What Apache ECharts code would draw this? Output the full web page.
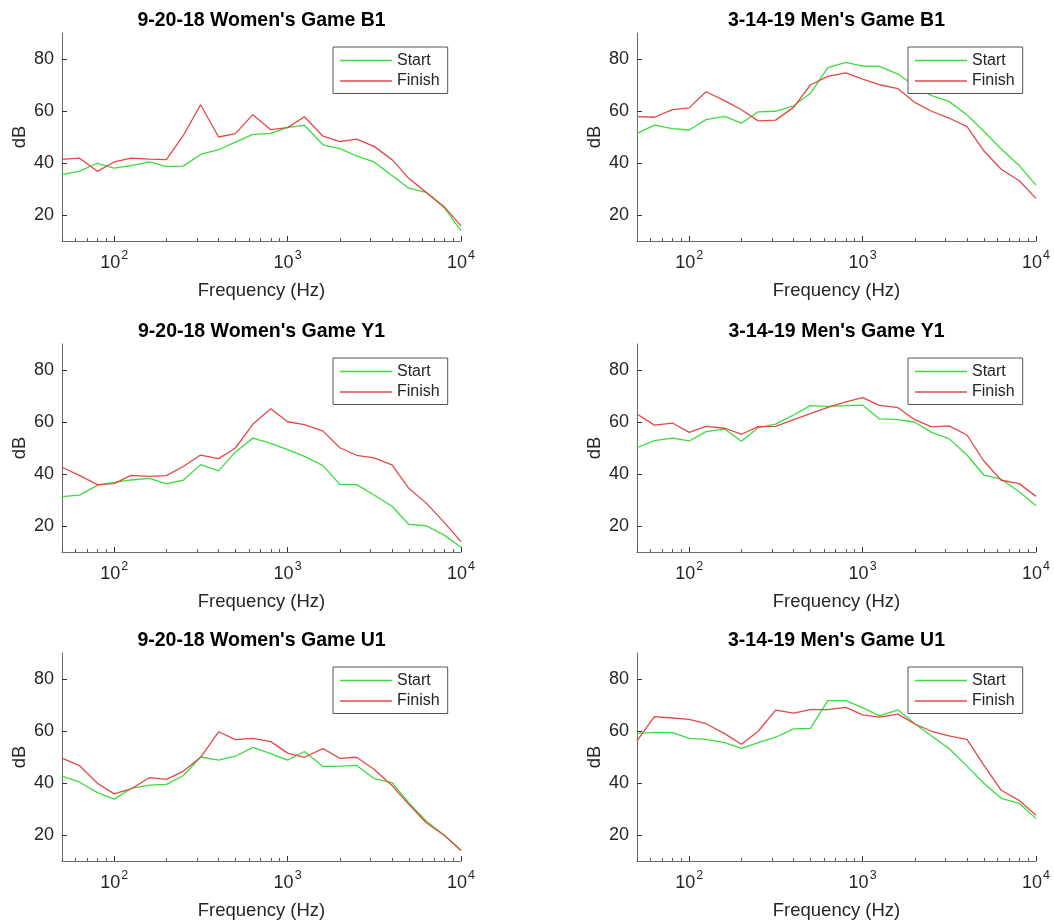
<!DOCTYPE html>
<html><head><meta charset="utf-8">
<script src="https://cdn.jsdelivr.net/npm/echarts@6/dist/echarts.min.js"></script>
<style>html,body{margin:0;padding:0;background:#fff}#c{width:1054px;height:922px}</style>
</head><body><div id="c"></div>
<script>
const freqs = [50,63,80,100,125,160,200,250,315,400,500,630,800,1000,1250,1600,2000,2500,3150,4000,5000,6300,8000,10000];

const womenB1Start  = [35.5,36.9,39.9,38.0,39.0,40.4,38.6,38.8,43.3,45.1,48.0,51.0,51.4,53.7,54.5,47.0,45.5,42.7,40.4,35.2,30.3,28.7,22.8,14.0];
const womenB1Finish = [41.4,41.9,36.8,40.4,41.9,41.5,41.3,50.5,62.4,50.0,51.3,58.6,52.8,53.6,57.8,50.3,48.2,49.2,46.4,41.3,34.1,28.7,23.2,15.8];
const menB1Start    = [51.4,54.6,53.2,52.7,56.7,57.9,55.3,59.7,59.9,62.0,66.8,76.7,78.7,77.3,77.2,74.2,69.5,65.9,63.7,58.5,52.2,45.4,39.0,31.5];
const menB1Finish   = [57.8,57.6,60.5,61.2,67.4,64.0,60.5,56.2,56.5,61.4,70.0,73.3,74.7,72.3,70.1,68.6,63.3,59.9,57.3,54.0,44.7,37.6,33.2,26.4];
const womenY1Start  = [31.3,31.9,35.6,36.8,37.7,38.3,36.2,37.6,43.6,41.2,48.5,53.8,51.8,49.4,46.8,43.2,36.0,35.9,31.9,27.6,20.6,20.1,16.5,11.8];
const womenY1Finish = [42.6,39.5,35.9,36.3,39.5,39.1,39.4,42.9,47.3,45.9,50.0,59.1,65.1,60.1,59.0,56.5,50.1,47.2,46.2,43.5,34.5,28.8,21.4,14.0];
const menY1Start    = [50.1,52.8,53.8,52.7,56.3,57.3,52.6,57.8,59.2,62.7,66.3,66.0,66.3,66.5,61.2,60.9,59.9,56.0,53.6,47.3,39.6,38.0,33.2,27.8];
const menY1Finish   = [63.1,58.8,59.6,56.0,58.3,57.6,55.3,58.2,58.3,60.9,63.2,65.6,67.7,69.4,66.4,65.5,60.9,58.1,58.5,55.0,45.0,37.6,36.3,31.4];
const womenU1Start  = [42.6,40.4,36.3,33.8,37.9,39.2,39.5,42.8,50.0,48.8,50.3,53.7,51.3,48.8,52.1,46.3,46.5,46.8,41.7,40.1,32.4,25.4,19.9,14.1];
const womenU1Finish = [49.6,46.7,39.9,35.8,37.7,42.1,41.4,44.5,49.9,59.7,56.7,57.2,55.9,51.5,49.9,53.2,49.5,49.9,45.3,39.0,31.8,24.7,19.9,14.0];
const menU1Start    = [59.1,59.5,59.4,57.2,56.8,55.5,53.3,55.5,57.6,60.8,61.0,71.7,71.7,69.0,65.8,68.1,62.8,58.1,53.3,46.5,39.9,34.1,32.2,26.3];
const menU1Finish   = [56.2,65.5,65.0,64.5,62.8,59.0,54.9,59.9,68.0,66.9,68.2,68.2,69.1,66.2,65.3,66.5,62.7,59.9,58.1,56.8,46.9,37.2,33.3,27.6];

const titles = ["9-20-18 Women's Game B1","3-14-19 Men's Game B1","9-20-18 Women's Game Y1","3-14-19 Men's Game Y1","9-20-18 Women's Game U1","3-14-19 Men's Game U1"];
const startSets  = [womenB1Start, menB1Start, womenY1Start, menY1Start, womenU1Start, menU1Start];
const finishSets = [womenB1Finish, menB1Finish, womenY1Finish, menY1Finish, womenU1Finish, menU1Finish];
const seriesNames = ['Start','Finish'];
const xLabelTicks = [100,1000,10000];
const xMinorTicks = [50,60,70,80,90,200,300,400,500,600,700,800,900,2000,3000,4000,5000,6000,7000,8000,9000];
const yTicks = [20,40,60,80];
const xName = 'Frequency (Hz)';
const yName = 'dB';

const FONT = "'Liberation Sans', Arial, Helvetica, sans-serif";
const TXT = '#262626';
const AXC = '#6a6a6a';
const colStart = '#3ddc3d', colFinish = '#e34848';
const lefts = [62, 637], tops = [33, 344, 653], W = 399, H = 208;

const grid = [], xAxis = [], yAxis = [], series = [], legend = [], graphic = [];
for (let i = 0; i < 6; i++) {
  const L = lefts[i % 2], T = tops[Math.floor(i / 2)];
  grid.push({left: L, top: T, width: W, height: H, containLabel: false});
  xAxis.push({
    type: 'log', logBase: 10, gridIndex: i, min: 50, max: 10000, position: 'bottom',
    axisLine: {show: true, lineStyle: {color: AXC, width: 1}},
    axisTick: {show: true, inside: true, length: 5, customValues: xLabelTicks, lineStyle: {color: '#333'}},
    axisLabel: {
      customValues: xLabelTicks, margin: 8, color: TXT, fontFamily: FONT,
      formatter: v => '{b|10}{s|' + Math.round(Math.log10(v)) + '}',
      rich: {b: {fontSize: 18, color: TXT, fontFamily: FONT}, s: {fontSize: 12.5, color: TXT, fontFamily: FONT, padding: [0, 0, 15, 1]}}
    },
    splitLine: {show: false}, minorTick: {show: false},
    name: xName, nameLocation: 'middle', nameGap: 40,
    nameTextStyle: {fontSize: 18.5, color: TXT, fontFamily: FONT}
  });
  xAxis.push({
    type: 'log', logBase: 10, gridIndex: i, min: 50, max: 10000, position: 'bottom', offset: 0,
    axisLine: {show: false},
    axisTick: {show: true, inside: true, length: 3, customValues: xMinorTicks, lineStyle: {color: '#555'}},
    axisLabel: {show: false}, splitLine: {show: false}
  });
  yAxis.push({
    type: 'value', gridIndex: i, min: 10, max: 90,
    axisLine: {show: true, lineStyle: {color: AXC, width: 1}},
    axisTick: {show: true, inside: true, length: 5, customValues: yTicks, lineStyle: {color: '#333'}},
    axisLabel: {customValues: yTicks, margin: 8, fontSize: 18, color: TXT, fontFamily: FONT},
    splitLine: {show: false},
    name: yName, nameLocation: 'middle', nameGap: 33,
    nameTextStyle: {fontSize: 18.5, color: TXT, fontFamily: FONT}
  });
  const sets = [startSets[i], finishSets[i]];
  const cols = [colStart, colFinish];
  for (let k = 0; k < 2; k++) {
    series.push({
      type: 'line', name: seriesNames[k], xAxisIndex: 2 * i, yAxisIndex: i,
      data: freqs.map((f, j) => [f, sets[k][j]]),
      symbol: 'none', lineStyle: {color: cols[k], width: 1.3}, itemStyle: {color: cols[k]},
      clip: true, silent: true
    });
  }
  legend.push({
    left: L + 271, top: T + 14, orient: 'vertical', data: seriesNames,
    icon: 'rect', itemWidth: 52, itemHeight: 1.3, itemGap: 3.5,
    backgroundColor: '#fff', borderColor: '#555', borderWidth: 1, borderRadius: 0,
    padding: [5, 8, 4, 7], selectedMode: false,
    textStyle: {fontSize: 16, color: TXT, fontFamily: FONT, lineHeight: 17}
  });
  graphic.push({
    type: 'text', x: L + W / 2, y: T - 12, silent: true,
    style: {text: titles[i], font: "bold 19.5px " + FONT, fill: '#000', align: 'center', verticalAlign: 'middle'}
  });
}

const chart = echarts.init(document.getElementById('c'), null, {renderer: 'canvas'});
chart.setOption({
  animation: false, backgroundColor: '#fff',
  textStyle: {fontFamily: FONT},
  grid, xAxis, yAxis, series, legend, graphic
});
</script></body></html>
